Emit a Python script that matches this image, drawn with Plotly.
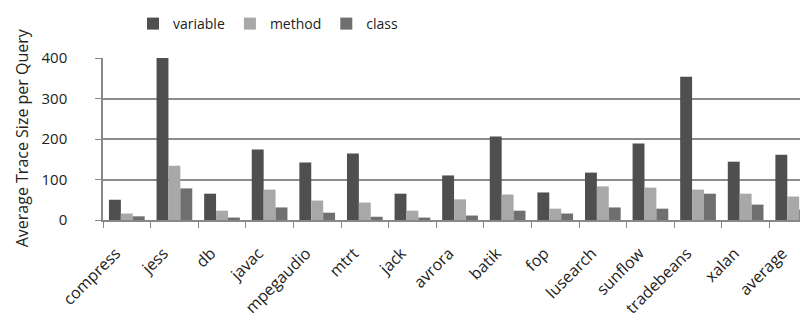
import plotly.graph_objects as go

categories = ["compress", "jess", "db", "javac", "mpegaudio", "mtrt", "jack", "avrora",
              "batik", "fop", "lusearch", "sunflow", "tradebeans", "xalan", "average"]
variable = [50, 400, 65, 174, 142, 164, 65, 110, 206, 68, 117, 189, 354, 144, 161]
method = [16, 134, 23, 75, 48, 43, 23, 51, 63, 28, 83, 80, 75, 65, 58]
klass = [9, 78, 6, 31, 18, 8, 6, 11, 23, 16, 31, 28, 65, 38, 26]
y_ticks = [0, 100, 200, 300, 400]
y_title = "Average Trace Size per Query"

FONT = "Open Sans"
fig = go.Figure()
fig.add_bar(name="variable", x=categories, y=variable, marker_color="#4f4f4f", marker_line_width=0)
fig.add_bar(name="method", x=categories, y=method, marker_color="#a8a8a8", marker_line_width=0)
fig.add_bar(name="class", x=categories, y=klass, marker_color="#6f6f6f", marker_line_width=0)

# page body has an 8px default margin, so the figure is 800x312 placed at (8, 8)
fig.update_layout(
    width=800, height=312,
    margin=dict(l=95, r=0, t=50, b=100, autoexpand=False),
    paper_bgcolor="white", plot_bgcolor="white",
    barmode="group", bargap=0.25, bargroupgap=0,
    font=dict(family=FONT, size=15, color="#222"),
    legend=dict(orientation="h", x=0.325, xref="container", xanchor="center",
                y=1.0, yref="container", yanchor="top",
                font=dict(size=14), itemwidth=30, tracegroupgap=0, traceorder="normal"),
    showlegend=True,
    annotations=[dict(text=y_title, textangle=-90, xref="paper", yref="paper",
                      x=-0.115, y=0.51, xanchor="center", yanchor="middle",
                      showarrow=False, font=dict(size=16))],
)
fig.update_xaxes(
    range=[-0.5, 14.31], tickangle=-45, ticks="outside", tickson="boundaries",
    ticklen=6, tickcolor="#888", showline=True, linecolor="#888", linewidth=1.5,
    tickfont=dict(size=16), showgrid=False, automargin=False,
    ticklabelshift=-11, ticklabelstandoff=16,
)
fig.update_yaxes(
    range=[0, 400], tickvals=y_ticks, showgrid=True, gridcolor="#8c8c8c", gridwidth=1.5,
    showline=True, linecolor="#888", linewidth=1.5, ticks="outside", ticklen=6, tickcolor="#888",
    tickfont=dict(size=15), ticklabelstandoff=25, zeroline=False, automargin=False,
)
fig.write_html("out.html")
